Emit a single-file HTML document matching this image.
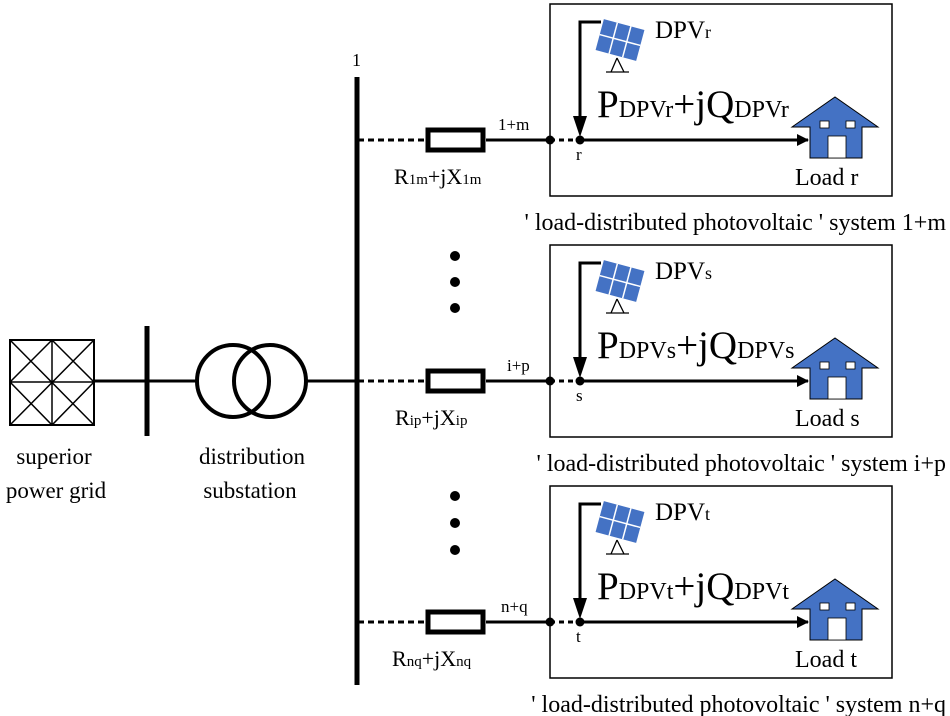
<!DOCTYPE html>
<html><head><meta charset="utf-8"><style>body{margin:0;background:#fff}svg{display:block}</style></head><body>
<svg width="950" height="716" viewBox="0 0 950 716" xmlns="http://www.w3.org/2000/svg" font-family="Liberation Serif, serif">
<defs>
<marker id="ah" markerWidth="12" markerHeight="12" refX="11" refY="6" orient="auto" markerUnits="userSpaceOnUse"><path d="M0,0 L12,6 L0,12 Z" fill="#000"/></marker>
<g id="row">
  <line x1="358" y1="0" x2="426" y2="0" stroke="#000" stroke-width="3" stroke-dasharray="6,4"/>
  <rect x="428" y="-10" width="55" height="20" fill="#fff" stroke="#000" stroke-width="5"/>
  <line x1="486" y1="0" x2="550" y2="0" stroke="#000" stroke-width="3"/>
  <line x1="550" y1="0" x2="580" y2="0" stroke="#000" stroke-width="3" stroke-dasharray="5,4"/>
  <circle cx="550" cy="0" r="4.5" fill="#000"/>
  <circle cx="580" cy="0" r="4.5" fill="#000"/>
  <rect x="550" y="-136" width="342" height="192" fill="none" stroke="#000" stroke-width="1.5"/>
  <line x1="580" y1="0" x2="808" y2="0" stroke="#000" stroke-width="3" marker-end="url(#ah)"/>
  <path d="M601,-118 L580,-118 L580,-10" fill="none" stroke="#000" stroke-width="3"/>
  <path d="M573,-24 L587,-24 L580,-3 Z" fill="#000"/>
  <g transform="translate(620,-100) rotate(15)">
    <rect x="-21" y="-16" width="42" height="32" fill="#4472c4"/>
    <line x1="-7" y1="-16" x2="-7" y2="16" stroke="#fff" stroke-width="1.5"/>
    <line x1="7" y1="-16" x2="7" y2="16" stroke="#fff" stroke-width="1.5"/>
    <line x1="-21" y1="0" x2="21" y2="0" stroke="#fff" stroke-width="1.5"/>
  </g>
  <path d="M617,-82 L611,-68 M617,-82 L624,-68 M606,-68 L629,-68" stroke="#000" stroke-width="1.3" fill="none"/>
  <path d="M792,-13 L835,-43 L878,-13 L862,-13 L862,18 L810,18 L810,-13 Z" fill="#4472c4" stroke="#000" stroke-width="1"/>
  <rect x="820" y="-19" width="9" height="7" fill="#fff" stroke="#000" stroke-width="0.8"/>
  <rect x="846" y="-19" width="9" height="7" fill="#fff" stroke="#000" stroke-width="0.8"/>
  <rect x="828" y="-4" width="18" height="22" fill="#fff" stroke="#000" stroke-width="0.8"/>
</g>
</defs>
<line x1="357" y1="77" x2="357" y2="685" stroke="#000" stroke-width="5"/>
<text x="352" y="66" font-size="18">1</text>
<rect x="10" y="340" width="84" height="85" fill="none" stroke="#000" stroke-width="2"/>
<path d="M52,340 L52,425 M10,382 L94,382 M10,340 L94,425 M94,340 L10,425 M10,382 L52,340 L94,382 L52,425 Z" stroke="#000" stroke-width="1.5" fill="none"/>
<line x1="94" y1="381" x2="196" y2="381" stroke="#000" stroke-width="3"/>
<line x1="147" y1="326" x2="147" y2="436" stroke="#000" stroke-width="5"/>
<circle cx="233" cy="381" r="36" fill="none" stroke="#000" stroke-width="4"/>
<circle cx="270" cy="381" r="36" fill="none" stroke="#000" stroke-width="4"/>
<line x1="306" y1="381" x2="357" y2="381" stroke="#000" stroke-width="3"/>
<text x="54" y="464" font-size="23" text-anchor="middle">superior</text>
<text x="56" y="498" font-size="23" text-anchor="middle">power grid</text>
<text x="252" y="464" font-size="23" text-anchor="middle">distribution</text>
<text x="250" y="498" font-size="23" text-anchor="middle">substation</text>
<g fill="#000"><circle cx="455" cy="256" r="5"/><circle cx="455" cy="282" r="5"/><circle cx="455" cy="308" r="5"/>
<circle cx="455" cy="496" r="5"/><circle cx="455" cy="523" r="5"/><circle cx="455" cy="550" r="5"/></g>
<use href="#row" transform="translate(0,140)"/>
<use href="#row" transform="translate(0,381)"/>
<use href="#row" transform="translate(0,622)"/>
<g font-size="17">
<text x="498" y="130">1+m</text><text x="507" y="371">i+p</text><text x="501" y="612">n+q</text>
<text x="576" y="160">r</text><text x="576" y="401">s</text><text x="576" y="642">t</text>
</g>
<g font-size="22">
<text x="394" y="184">R<tspan font-size="15">1m</tspan>+jX<tspan font-size="15">1m</tspan></text>
<text x="395" y="425">R<tspan font-size="15">ip</tspan>+jX<tspan font-size="15">ip</tspan></text>
<text x="392" y="666">R<tspan font-size="15">nq</tspan>+jX<tspan font-size="15">nq</tspan></text>
</g>
<g font-size="25">
<text x="655" y="38">DPV<tspan font-size="18">r</tspan></text>
<text x="655" y="279">DPV<tspan font-size="18">s</tspan></text>
<text x="655" y="520">DPV<tspan font-size="18">t</tspan></text>
</g>
<g font-size="24">
<text x="795" y="185">Load r</text><text x="795" y="426">Load s</text><text x="795" y="667">Load t</text>
</g>
<g font-size="39">
<text x="597" y="117">P<tspan font-size="24">DPVr</tspan>+jQ<tspan font-size="24">DPVr</tspan></text>
<text x="597" y="358">P<tspan font-size="24">DPVs</tspan>+jQ<tspan font-size="24">DPVs</tspan></text>
<text x="597" y="599">P<tspan font-size="24">DPVt</tspan>+jQ<tspan font-size="24">DPVt</tspan></text>
</g>
<g font-size="24" text-anchor="end">
<text x="946" y="230">' load-distributed photovoltaic ' system 1+m</text>
<text x="946" y="471">' load-distributed photovoltaic ' system i+p</text>
<text x="946" y="712">' load-distributed photovoltaic ' system n+q</text>
</g>
</svg>
</body></html>
